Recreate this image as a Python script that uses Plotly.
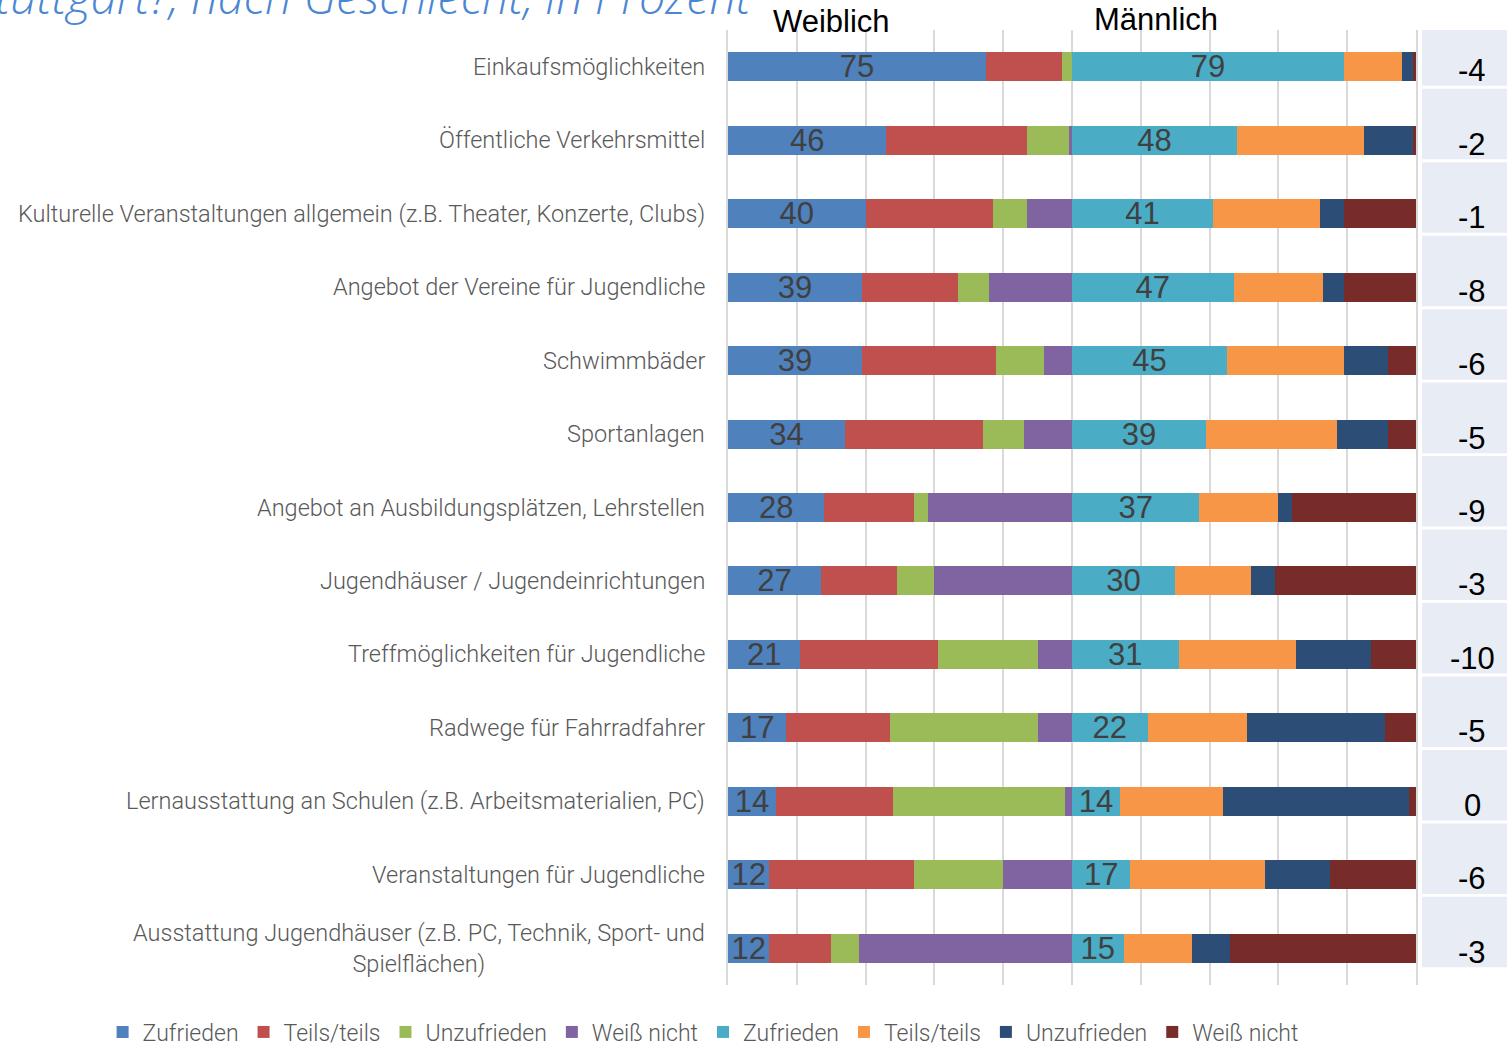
import plotly.graph_objects as go

categories = [
    "Einkaufsmöglichkeiten",
    "Öffentliche Verkehrsmittel",
    "Kulturelle Veranstaltungen allgemein (z.B. Theater, Konzerte, Clubs)",
    "Angebot der Vereine für Jugendliche",
    "Schwimmbäder",
    "Sportanlagen",
    "Angebot an Ausbildungsplätzen, Lehrstellen",
    "Jugendhäuser / Jugendeinrichtungen",
    "Treffmöglichkeiten für Jugendliche",
    "Radwege für Fahrradfahrer",
    "Lernausstattung an Schulen (z.B. Arbeitsmaterialien, PC)",
    "Veranstaltungen für Jugendliche",
    "Ausstattung Jugendhäuser (z.B. PC, Technik, Sport- und<br>Spielflächen)",
]

# Weiblich
w_zufrieden   = [75, 46, 40, 39, 39, 34, 28, 27, 21, 17, 14, 12, 12]
w_teils       = [22, 41, 37, 28, 39, 40, 26, 22, 40, 30, 34, 42, 18]
w_unzufrieden = [3, 12, 10, 9, 14, 12, 4, 11, 29, 43, 50, 26, 8]
w_weiss       = [0, 1, 13, 24, 8, 14, 42, 40, 10, 10, 2, 20, 62]

# Männlich
m_zufrieden   = [79, 48, 41, 47, 45, 39, 37, 30, 31, 22, 14, 17, 15]
m_teils       = [17, 37, 31, 26, 34, 38, 23, 22, 34, 29, 30, 39, 20]
m_unzufrieden = [3, 14, 7, 6, 13, 15, 4, 7, 22, 40, 54, 19, 11]
m_weiss       = [1, 1, 21, 21, 8, 8, 36, 41, 13, 9, 2, 25, 54]

differenz = [-4, -2, -1, -8, -6, -5, -9, -3, -10, -5, 0, -6, -3]

series = [
    ("Zufrieden", w_zufrieden, "#4F81BD", True),
    ("Teils/teils", w_teils, "#C0504D", False),
    ("Unzufrieden", w_unzufrieden, "#9BBB59", False),
    ("Weiß nicht", w_weiss, "#8064A2", False),
    ("Zufrieden", m_zufrieden, "#4BACC6", True),
    ("Teils/teils", m_teils, "#F79646", False),
    ("Unzufrieden", m_unzufrieden, "#2C4D75", False),
    ("Weiß nicht", m_weiss, "#772C2A", False),
]

ARIAL = "Liberation Sans, Arial, sans-serif"
LABEL_FONT = "Roboto, sans-serif"

fig = go.Figure()
for name, vals, color, labeled in series:
    fig.add_trace(go.Bar(
        y=categories, x=vals, orientation="h", name=name,
        marker=dict(color=color, line=dict(width=0)),
        text=[str(v) for v in vals] if labeled else None,
        textposition="inside" if labeled else "none",
        insidetextanchor="middle", constraintext="none", textangle=0,
        textfont=dict(family=ARIAL, size=31, color="#404040"),
        hoverinfo="skip",
    ))

# category labels (left), centered multi-line
for cat in categories:
    fig.add_annotation(
        x=0, xref="paper", y=cat, yref="y", xanchor="right", xshift=-21,
        text=cat, showarrow=False, align="center",
        font=dict(family=LABEL_FONT, size=23.5, color="#595959", weight=300),
    )

# difference column
for idx, (cat, d) in enumerate(zip(categories, differenz)):
    fig.add_shape(type="rect", xref="paper", yref="y",
                  x0=1.0087, x1=1.14, y0=idx - 0.70, y1=idx + 0.26,
                  fillcolor="#E8ECF4", line=dict(width=0), layer="below")
    fig.add_annotation(
        x=1.0814, xref="paper", xanchor="center", y=cat, yref="y", yshift=-4,
        text=str(d), showarrow=False,
        font=dict(family=ARIAL, size=31, color="#000000"),
    )

# headers
fig.add_annotation(x=30.2, xref="x", xanchor="center", y=1.0084, yref="paper",
                   text="Weiblich", showarrow=False, yanchor="middle",
                   font=dict(family=ARIAL, size=31, color="#000000"))
fig.add_annotation(x=124.4, xref="x", xanchor="center", y=1.0105, yref="paper",
                   text="Männlich", showarrow=False, yanchor="middle",
                   font=dict(family=ARIAL, size=31, color="#000000"))

# clipped title
fig.add_annotation(x=0.039, xref="paper", y=1.0, yref="paper",
                   xanchor="right", yanchor="bottom", showarrow=False,
                   text="Wie zufrieden bist du in Stuttgart?, nach Geschlecht, in Prozent",
                   font=dict(family="Open Sans, sans-serif", size=47, color="#4A86D4",
                             style="italic", weight=300))

fig.update_layout(
    barmode="stack", bargap=0.605,
    width=1507, height=1045,
    margin=dict(l=728, r=91, t=30, b=60, autoexpand=False),
    plot_bgcolor="white", paper_bgcolor="white",
    showlegend=True,
    legend=dict(orientation="h", x=-0.909, xanchor="left", y=-0.0492, yanchor="middle",
                font=dict(family=LABEL_FONT, size=23, color="#595959", weight=300),
                traceorder="normal", tracegroupgap=0),
    xaxis=dict(range=[0, 200], dtick=20, showgrid=True, gridcolor="#D9D9D9", gridwidth=2,
               showticklabels=False, zeroline=False, showline=False, fixedrange=True),
    yaxis=dict(autorange=False, range=[12.5, -0.5], showticklabels=False, showgrid=False,
               showline=True, mirror=True, linecolor="#D9D9D9", linewidth=2,
               zeroline=False, automargin=False, fixedrange=True),
)

fig.write_html("out.html", config={"displayModeBar": False},
               post_script="document.body.style.margin='0';")
